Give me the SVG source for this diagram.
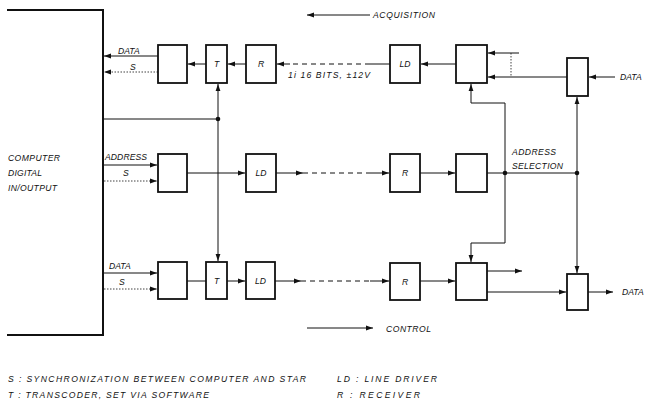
<svg xmlns="http://www.w3.org/2000/svg" width="645" height="402" viewBox="0 0 645 402">
<style>
text{font-family:"Liberation Sans",Arial,sans-serif;font-style:italic;font-size:8.6px;fill:#111}
.box{fill:#fff;stroke:#111;stroke-width:1.8}
.ln{fill:none;stroke:#111;stroke-width:1}
.dash{fill:none;stroke:#111;stroke-width:1;stroke-dasharray:5,4}
.dot{fill:none;stroke:#111;stroke-width:0.8;stroke-dasharray:1.5,1.5}
.arr{marker-end:url(#ah)}
</style>
<defs>
<marker id="ah" markerUnits="userSpaceOnUse" markerWidth="8" markerHeight="6" refX="7" refY="3" orient="auto">
<path d="M0,0.6 L7,3 L0,5.4 Z" fill="#111"/>
</marker>
</defs>

<g id="computer">
<path d="M7,10 H103 V335 H7" fill="none" stroke="#111" stroke-width="2"/>
<text x="8" y="161" textLength="52">COMPUTER</text>
<text x="8" y="176" textLength="34">DIGITAL</text>
<text x="8" y="191" textLength="49">IN/OUTPUT</text>
</g>

<g id="connectors">
<!-- row 1 -->
<path class="ln arr" d="M158,56 H104"/>
<path class="dot arr" d="M158,72 H104"/>
<path class="ln arr" d="M206,64 H188"/>
<path class="ln arr" d="M246,64 H228"/>
<path class="ln" d="M390,64 H370"/>
<path class="dash" d="M370,64 H290"/>
<path class="ln arr" d="M290,64 H277"/>
<path class="ln arr" d="M456,64 H421"/>
<path class="ln arr" d="M519,53 H488"/>
<path class="ln arr" d="M567,77 H488"/>
<path class="dot" d="M511,53 V77"/>
<path class="ln arr" d="M615,77 H589"/>
<!-- vertical T bus -->
<path class="ln" d="M103,119 H218"/>
<path class="ln arr" d="M218,119 V84"/>
<path class="ln arr" d="M218,119 V261"/>
<circle cx="218" cy="119" r="2.3" fill="#111"/>
<!-- row 2 -->
<path class="ln arr" d="M104,165 H157"/>
<path class="dot arr" d="M104,181 H157"/>
<path class="ln arr" d="M187,173 H245"/>
<path class="ln arr" d="M276,173 H303"/>
<path class="dash" d="M303,173 H370"/>
<path class="ln arr" d="M370,173 H389"/>
<path class="ln arr" d="M420,173 H455"/>
<path class="ln" d="M487,173 H577"/>
<circle cx="505" cy="173" r="2.3" fill="#111"/>
<circle cx="577" cy="173" r="2.3" fill="#111"/>
<path class="ln arr" d="M505,173 V103 H471 V84"/>
<path class="ln arr" d="M505,173 V243 H471 V262"/>
<path class="ln arr" d="M577,173 V97"/>
<path class="ln arr" d="M577,173 V273"/>
<!-- row 3 -->
<path class="ln arr" d="M104,273 H157"/>
<path class="dot arr" d="M104,289 H157"/>
<path class="ln" d="M187,281 H206"/>
<path class="ln arr" d="M227,281 H245"/>
<path class="ln arr" d="M275,281 H301"/>
<path class="dash" d="M301,281 H370"/>
<path class="ln arr" d="M370,281 H389"/>
<path class="ln arr" d="M420,281 H455"/>
<path class="ln arr" d="M487,271 H522"/>
<path class="ln arr" d="M487,292 H566"/>
<path class="ln arr" d="M588,292 H613"/>
<!-- legend arrows -->
<path class="ln arr" d="M370,15 H307"/>
<path class="ln arr" d="M307,328 H373"/>
</g>

<g id="box1"><rect class="box" x="158" y="45" width="29" height="38"/></g>
<g id="t1"><rect class="box" x="206" y="45" width="21" height="38"/><text x="216.5" y="67" text-anchor="middle">T</text></g>
<g id="r1"><rect class="box" x="246" y="45" width="30" height="38"/><text x="261" y="67" text-anchor="middle">R</text></g>
<g id="ld1"><rect class="box" x="390" y="45" width="30" height="38"/><text x="405" y="67" text-anchor="middle">LD</text></g>
<g id="box1r"><rect class="box" x="456" y="45" width="31" height="38"/></g>
<g id="sb1"><rect class="box" x="567" y="58" width="21" height="38"/></g>

<g id="box2"><rect class="box" x="158" y="154" width="29" height="38"/></g>
<g id="ld2"><rect class="box" x="246" y="154" width="30" height="38"/><text x="261" y="176" text-anchor="middle">LD</text></g>
<g id="r2"><rect class="box" x="390" y="154" width="30" height="38"/><text x="405" y="176" text-anchor="middle">R</text></g>
<g id="box2r"><rect class="box" x="456" y="154" width="31" height="38"/></g>

<g id="box3"><rect class="box" x="158" y="262" width="29" height="37"/></g>
<g id="t3"><rect class="box" x="206" y="262" width="21" height="37"/><text x="216.5" y="284" text-anchor="middle">T</text></g>
<g id="ld3"><rect class="box" x="246" y="262" width="29" height="37"/><text x="260.5" y="284" text-anchor="middle">LD</text></g>
<g id="r3"><rect class="box" x="390" y="263" width="30" height="37"/><text x="405" y="285" text-anchor="middle">R</text></g>
<g id="box3r"><rect class="box" x="456" y="263" width="31" height="37"/></g>
<g id="sb3"><rect class="box" x="567" y="274" width="21" height="36"/></g>

<g id="labels">
<text x="118" y="54">DATA</text>
<text x="130" y="70">S</text>
<text x="105" y="160" textLength="42">ADDRESS</text>
<text x="123" y="176">S</text>
<text x="109" y="269">DATA</text>
<text x="119" y="285">S</text>
<text x="288" y="78" textLength="82">1i 16 BITS, ±12V</text>
<text x="512" y="155" textLength="44">ADDRESS</text>
<text x="512" y="169" textLength="51">SELECTION</text>
<text x="620" y="80">DATA</text>
<text x="622" y="295">DATA</text>
<text x="373" y="18" textLength="62">ACQUISITION</text>
<text x="386" y="332" textLength="45">CONTROL</text>
<text x="8" y="382" textLength="298">S : SYNCHRONIZATION BETWEEN COMPUTER AND STAR</text>
<text x="8" y="398" textLength="201">T : TRANSCODER, SET VIA SOFTWARE</text>
<text x="337" y="382" textLength="100">LD : LINE DRIVER</text>
<text x="337" y="398">R</text>
<text x="350" y="398" textLength="70">: RECEIVER</text>
</g>
</svg>
